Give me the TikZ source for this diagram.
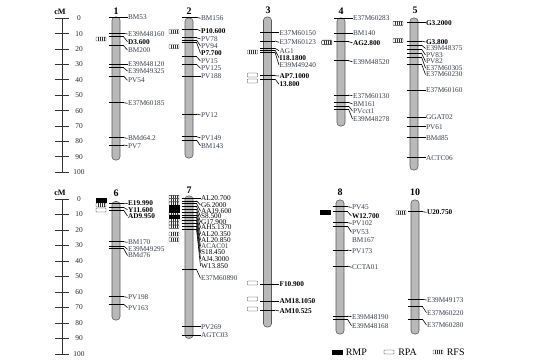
\documentclass[tikz,border=0pt]{standalone}
\usepackage{fontspec}
\setmainfont{Liberation Serif}
\usetikzlibrary{positioning, calc}

\definecolor{mkgray}{rgb}{0.22,0.24,0.30}

% markers of one linkage group: name, centre x, list of line-y/label-y/text/style
\newcommand{\markers}[3]{%
  \foreach \ly/\ty/\txt/\st [count=\i] in {#3}{
    \draw[markline] (#2-7.5,\ly) -- (#2+7.5,\ly) coordinate (#1m\i);
    \node[\st] (#1l\i) at (#2+11.5,\ty) {\txt};
    \draw[markline] (#1m\i) -- (#1l\i.west);
  }}

\begin{document}
\begin{tikzpicture}[
  x=0.03cm, y=-0.03cm,
  chrom/.style={draw=black!65, fill=gray!55, line width=0.5pt, rounded corners=2.8pt},
  markline/.style={line width=0.5pt, black},
  mk/.style={anchor=west, inner sep=0.3pt, text=mkgray, font=\fontsize{6.2}{7}\selectfont},
  scar/.style={mk, text=black, font=\fontsize{6.2}{7}\selectfont\bfseries},
  dense/.style={mk, text=black},
  lgnum/.style={font=\fontsize{8.5}{9}\selectfont\bfseries},
  scalenum/.style={font=\fontsize{6.3}{7}\selectfont, text=black!85},
  scaletick/.style={line width=0.7pt, black!80},
  rmp/.style={draw=black, fill=black, minimum width=0.3cm, minimum height=0.12cm, inner sep=0pt},
  rpa/.style={draw=black!80, fill=white, line width=0.4pt, rounded corners=0.5pt,
    minimum width=0.3cm, minimum height=0.12cm, inner sep=0pt},
  rfs/.style={rpa, path picture={
    \foreach \k in {0.2,0.4,0.6,0.8}
      \draw[line width=0.3pt]
        ($(path picture bounding box.south west)!\k!(path picture bounding box.south east)$) --
        ($(path picture bounding box.north west)!\k!(path picture bounding box.north east)$);}},
  legendtxt/.style={anchor=west, inner sep=0.5pt, font=\fontsize{8.5}{9}\selectfont},
]
\useasboundingbox (0,0) rectangle (547,363);

% cM scales
\node[font=\fontsize{7}{8}\selectfont\bfseries] (cmtop) at (60,12) {cM};
\draw[scaletick] (62,18.3) -- (62,172.3);
\foreach \v in {0,10,...,100}{
  \draw[scaletick] (55,18.3+1.54*\v) -- (69,18.3+1.54*\v);
  \node[scalenum] (st\v) at (79,18.3+1.54*\v) {\v};
}
\node[font=\fontsize{7}{8}\selectfont\bfseries] (cmbot) at (60,193) {cM};
\draw[scaletick] (62,199) -- (62,354);
\foreach \v in {0,10,...,100}{
  \draw[scaletick] (55,199+1.55*\v) -- (69,199+1.55*\v);
  \node[scalenum] (sb\v) at (79,199+1.55*\v) {\v};
}

% linkage groups
\draw[chrom] (112,17) rectangle (120,160);
\draw[chrom] (185,18) rectangle (193,158);
\draw[chrom] (263.5,17) rectangle (271.5,327);
\draw[chrom] (337,18) rectangle (345,126);
\draw[chrom] (410,18) rectangle (418,170);
\draw[chrom] (112,201.5) rectangle (120,320);
\draw[chrom] (185,196) rectangle (193,338.3);
\draw[chrom] (336,200) rectangle (344,334);
\draw[chrom] (411,200) rectangle (419,334);

\node[lgnum] (n1) at (116,11) {1};
\node[lgnum] (n2) at (189,11) {2};
\node[lgnum] (n3) at (268,10) {3};
\node[lgnum] (n4) at (341,11) {4};
\node[lgnum] (n5) at (415,10) {5};
\node[lgnum] (n6) at (116,193) {6};
\node[lgnum] (n7) at (189,190) {7};
\node[lgnum] (n8) at (340,192) {8};
\node[lgnum] (n10) at (415,192) {10};

% markers
\markers{a}{116}{17.3/17.3/BM53/mk, 33.3/34/E39M48160/mk, 36.7/41.7/D3.600/scar,
  45.7/50/BM200/mk, 64/64/E39M48120/mk, 67.7/71/E39M49325/mk, 76/80.3/PV54/mk,
  102.7/103.3/E37M60185/mk, 137.7/138.3/BMd64.2/mk, 145/145.7/PV7/mk}
\markers{b}{189}{17.3/18.3/BM156/mk, 29/31/P10.600/scar, 37.7/39/PV78/mk,
  40/46/PV94/mk, 42.3/53.3/P7.700/scar, 56.7/61/PV15/mk, 64.3/68.3/PV125/mk,
  76/76/PV188/mk, 114/115/PV12/mk, 136.7/137.7/PV149/mk, 140/145.7/BM143/mk}
\markers{c}{267.5}{32.7/32.7/E37M60150/mk, 41/42.3/E37M60123/mk, 48.3/50.7/AG1/mk,
  50/57.7/I18.1800/scar, 52.3/65/E39M49240/mk, 75.7/76/AP7.1000/scar,
  79/84.3/13.800/scar, 284/284/F10.900/scar, 301/301/AM18.1050/scar,
  310/311/AM10.525/scar}
\markers{d}{341}{18.3/18.3/E37M60283/mk, 33.3/33.3/BM140/mk, 41.7/42.7/AG2.800/scar,
  60.7/61.7/E39M48520/mk, 95/95.7/E37M60130/mk, 102.3/104/BM161/mk,
  106/111/PVcct1/mk, 109/119/E39M48278/mk}
\markers{e}{414}{22.7/22.7/G3.2000/scar, 41/42/G3.800/scar, 45/48.5/E39M48375/mk,
  49/55/PV83/mk, 53/61.5/PV82/mk, 57/68/E37M60305/mk, 64/74.5/E37M60230/mk,
  90/90/E37M60160/mk, 117.3/117.3/GGAT02/mk, 126.7/126.7/PV61/mk,
  137.7/137.7/BMd85/mk, 157.7/157.7/ACTC06/mk}
\markers{f}{116}{203.3/203.5/E19.990/scar, 207.3/209.7/Y11.600/scar, 210/216/AD9.950/scar,
  241.7/242.3/BM170/mk, 246/249.3/E39M49295/mk, 248.3/255.5/BMd76/mk,
  296.7/297.3/PV198/mk, 304/307.7/PV163/mk}
\markers{g}{189}{198/198/AL20.700/dense, 200.8/205/G6.2000/dense, 203.6/211/AA19.600/dense,
  206.4/216.5/S8.500/dense, 209.2/222/G17.900/dense, 212/227.5/AH5.1370/dense,
  214.8/233.7/AL20.350/dense, 217.6/240.2/AL20.850/dense, 220.4/246.3/ACAC01/mk,
  223.2/252.6/S18.450/dense, 226/258.9/AJ4.3000/dense, 228.8/266/W13.850/dense,
  269.3/278.3/E37M60890/mk, 326.7/326.7/PV269/mk, 335/335/AGTC03/mk}
\markers{h}{340}{206.7/207.3/PV45/mk, 211.7/216/W12.700/scar, 222.7/223.3/PV102/mk,
  226/232.3/PV53/mk, 250/250.7/PV173/mk, 266/267.3/CCTA01/mk,
  316/316.7/E39M48190/mk, 319.3/325.7/E39M48168/mk}
\node[mk] (hbm167) at (351.5,240) {BM167};
\markers{k}{415}{211.7/212.3/U20.750/scar, 299.3/300/E39M49173/mk,
  306.7/312.7/E37M60220/mk, 319.3/325/E37M60280/mk}

% QTL boxes
\node[rfs] (q1) at (101,39) {};
\node[rfs] (q2a) at (174,31.5) {};
\node[rfs] (q2b) at (174,46.5) {};
\node[rfs] (q3a) at (252.5,52) {};
\node[rpa] (q3b) at (252.5,75) {};
\node[rpa] (q3c) at (252.5,81) {};
\node[rfs] (q3d) at (327,42) {};
\node[rpa] (q3e) at (252.5,283) {};
\node[rpa] (q3f) at (252.5,299) {};
\node[rpa] (q3g) at (252.5,309) {};
\node[rfs] (q4) at (326.7,42.7) {};
\node[rfs] (q5a) at (398,23.3) {};
\node[rfs] (q5b) at (398,40.7) {};
\node[rmp] (q6a) at (101,200.5) {};
\node[rfs] (q6b) at (101,205) {};
\node[rpa] (q6c) at (101,210) {};
\foreach \r in {0,1,2,5,7,8,9}
  \node[rfs, minimum height=0.099cm] (q7s\r) at (174,197+3.3*\r) {};
\foreach \r in {3,4,6}
  \node[rmp, minimum height=0.099cm] (q7s\r) at (174,197+3.3*\r) {};
\node[rfs] (q7a) at (174,234) {};
\node[rfs] (q7b) at (174,239.5) {};
\node[rmp] (q8) at (325.7,212) {};
\node[rfs] (q10) at (401,212.5) {};

% legend
\node[rmp] (kmp) at (337,352) {};
\node[legendtxt] (tmp) at (345,352) {RMP};
\node[rpa] (kpa) at (389,352) {};
\node[legendtxt] (tpa) at (397.5,352) {RPA};
\node[rfs] (kfs) at (438,352) {};
\node[legendtxt] (tfs) at (446,352) {RFS};

\end{tikzpicture}
\end{document}
